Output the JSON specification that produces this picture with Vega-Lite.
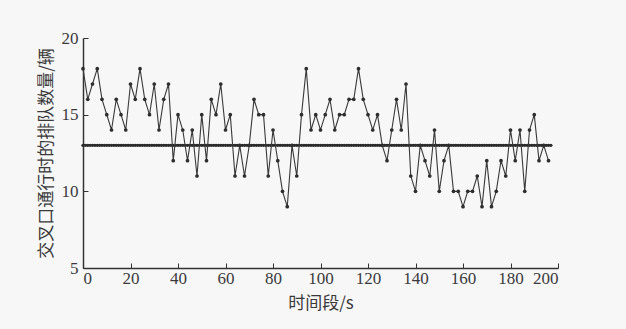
{
  "$schema": "https://vega.github.io/schema/vega-lite/v6.json",
  "width": 475,
  "height": 230,
  "autosize": "none",
  "padding": {"left": 83, "top": 38, "right": 68, "bottom": 61},
  "background": "#f7f7f8",
  "config": {
    "font": "Times New Roman",
    "view": {"stroke": null},
    "axis": {
      "grid": false,
      "labelFont": "Times New Roman",
      "labelFontSize": 17,
      "labelColor": "#3a3a3a",
      "titleFont": "Noto Sans CJK SC",
      "titleFontSize": 17,
      "titleFontWeight": "normal",
      "titleColor": "#3a3a3a",
      "domainColor": "#333333",
      "domainWidth": 1.5,
      "tickColor": "#333333",
      "tickSize": -5,
      "tickWidth": 1
    }
  },
  "datasets": {
    "queue": [
      {"t":0,"v":18},{"t":2,"v":16},{"t":4,"v":17},{"t":6,"v":18},{"t":8,"v":16},{"t":10,"v":15},{"t":12,"v":14},{"t":14,"v":16},{"t":16,"v":15},{"t":18,"v":14},
      {"t":20,"v":17},{"t":22,"v":16},{"t":24,"v":18},{"t":26,"v":16},{"t":28,"v":15},{"t":30,"v":17},{"t":32,"v":14},{"t":34,"v":16},{"t":36,"v":17},{"t":38,"v":12},
      {"t":40,"v":15},{"t":42,"v":14},{"t":44,"v":12},{"t":46,"v":14},{"t":48,"v":11},{"t":50,"v":15},{"t":52,"v":12},{"t":54,"v":16},{"t":56,"v":15},{"t":58,"v":17},
      {"t":60,"v":14},{"t":62,"v":15},{"t":64,"v":11},{"t":66,"v":13},{"t":68,"v":11},{"t":70,"v":13},{"t":72,"v":16},{"t":74,"v":15},{"t":76,"v":15},{"t":78,"v":11},
      {"t":80,"v":14},{"t":82,"v":12},{"t":84,"v":10},{"t":86,"v":9},{"t":88,"v":13},{"t":90,"v":11},{"t":92,"v":15},{"t":94,"v":18},{"t":96,"v":14},{"t":98,"v":15},
      {"t":100,"v":14},{"t":102,"v":15},{"t":104,"v":16},{"t":106,"v":14},{"t":108,"v":15},{"t":110,"v":15},{"t":112,"v":16},{"t":114,"v":16},{"t":116,"v":18},{"t":118,"v":16},
      {"t":120,"v":15},{"t":122,"v":14},{"t":124,"v":15},{"t":126,"v":13},{"t":128,"v":12},{"t":130,"v":14},{"t":132,"v":16},{"t":134,"v":14},{"t":136,"v":17},{"t":138,"v":11},
      {"t":140,"v":10},{"t":142,"v":13},{"t":144,"v":12},{"t":146,"v":11},{"t":148,"v":14},{"t":150,"v":10},{"t":152,"v":12},{"t":154,"v":13},{"t":156,"v":10},{"t":158,"v":10},
      {"t":160,"v":9},{"t":162,"v":10},{"t":164,"v":10},{"t":166,"v":11},{"t":168,"v":9},{"t":170,"v":12},{"t":172,"v":9},{"t":174,"v":10},{"t":176,"v":12},{"t":178,"v":11},
      {"t":180,"v":14},{"t":182,"v":12},{"t":184,"v":14},{"t":186,"v":10},{"t":188,"v":14},{"t":190,"v":15},{"t":192,"v":12},{"t":194,"v":13},{"t":196,"v":12}
    ],
    "avg": [
      {"t":0,"v":13},{"t":1,"v":13},{"t":2,"v":13},{"t":3,"v":13},{"t":4,"v":13},{"t":5,"v":13},{"t":6,"v":13},{"t":7,"v":13},{"t":8,"v":13},{"t":9,"v":13},
      {"t":10,"v":13},{"t":11,"v":13},{"t":12,"v":13},{"t":13,"v":13},{"t":14,"v":13},{"t":15,"v":13},{"t":16,"v":13},{"t":17,"v":13},{"t":18,"v":13},{"t":19,"v":13},
      {"t":20,"v":13},{"t":21,"v":13},{"t":22,"v":13},{"t":23,"v":13},{"t":24,"v":13},{"t":25,"v":13},{"t":26,"v":13},{"t":27,"v":13},{"t":28,"v":13},{"t":29,"v":13},
      {"t":30,"v":13},{"t":31,"v":13},{"t":32,"v":13},{"t":33,"v":13},{"t":34,"v":13},{"t":35,"v":13},{"t":36,"v":13},{"t":37,"v":13},{"t":38,"v":13},{"t":39,"v":13},
      {"t":40,"v":13},{"t":41,"v":13},{"t":42,"v":13},{"t":43,"v":13},{"t":44,"v":13},{"t":45,"v":13},{"t":46,"v":13},{"t":47,"v":13},{"t":48,"v":13},{"t":49,"v":13},
      {"t":50,"v":13},{"t":51,"v":13},{"t":52,"v":13},{"t":53,"v":13},{"t":54,"v":13},{"t":55,"v":13},{"t":56,"v":13},{"t":57,"v":13},{"t":58,"v":13},{"t":59,"v":13},
      {"t":60,"v":13},{"t":61,"v":13},{"t":62,"v":13},{"t":63,"v":13},{"t":64,"v":13},{"t":65,"v":13},{"t":66,"v":13},{"t":67,"v":13},{"t":68,"v":13},{"t":69,"v":13},
      {"t":70,"v":13},{"t":71,"v":13},{"t":72,"v":13},{"t":73,"v":13},{"t":74,"v":13},{"t":75,"v":13},{"t":76,"v":13},{"t":77,"v":13},{"t":78,"v":13},{"t":79,"v":13},
      {"t":80,"v":13},{"t":81,"v":13},{"t":82,"v":13},{"t":83,"v":13},{"t":84,"v":13},{"t":85,"v":13},{"t":86,"v":13},{"t":87,"v":13},{"t":88,"v":13},{"t":89,"v":13},
      {"t":90,"v":13},{"t":91,"v":13},{"t":92,"v":13},{"t":93,"v":13},{"t":94,"v":13},{"t":95,"v":13},{"t":96,"v":13},{"t":97,"v":13},{"t":98,"v":13},{"t":99,"v":13},
      {"t":100,"v":13},{"t":101,"v":13},{"t":102,"v":13},{"t":103,"v":13},{"t":104,"v":13},{"t":105,"v":13},{"t":106,"v":13},{"t":107,"v":13},{"t":108,"v":13},{"t":109,"v":13},
      {"t":110,"v":13},{"t":111,"v":13},{"t":112,"v":13},{"t":113,"v":13},{"t":114,"v":13},{"t":115,"v":13},{"t":116,"v":13},{"t":117,"v":13},{"t":118,"v":13},{"t":119,"v":13},
      {"t":120,"v":13},{"t":121,"v":13},{"t":122,"v":13},{"t":123,"v":13},{"t":124,"v":13},{"t":125,"v":13},{"t":126,"v":13},{"t":127,"v":13},{"t":128,"v":13},{"t":129,"v":13},
      {"t":130,"v":13},{"t":131,"v":13},{"t":132,"v":13},{"t":133,"v":13},{"t":134,"v":13},{"t":135,"v":13},{"t":136,"v":13},{"t":137,"v":13},{"t":138,"v":13},{"t":139,"v":13},
      {"t":140,"v":13},{"t":141,"v":13},{"t":142,"v":13},{"t":143,"v":13},{"t":144,"v":13},{"t":145,"v":13},{"t":146,"v":13},{"t":147,"v":13},{"t":148,"v":13},{"t":149,"v":13},
      {"t":150,"v":13},{"t":151,"v":13},{"t":152,"v":13},{"t":153,"v":13},{"t":154,"v":13},{"t":155,"v":13},{"t":156,"v":13},{"t":157,"v":13},{"t":158,"v":13},{"t":159,"v":13},
      {"t":160,"v":13},{"t":161,"v":13},{"t":162,"v":13},{"t":163,"v":13},{"t":164,"v":13},{"t":165,"v":13},{"t":166,"v":13},{"t":167,"v":13},{"t":168,"v":13},{"t":169,"v":13},
      {"t":170,"v":13},{"t":171,"v":13},{"t":172,"v":13},{"t":173,"v":13},{"t":174,"v":13},{"t":175,"v":13},{"t":176,"v":13},{"t":177,"v":13},{"t":178,"v":13},{"t":179,"v":13},
      {"t":180,"v":13},{"t":181,"v":13},{"t":182,"v":13},{"t":183,"v":13},{"t":184,"v":13},{"t":185,"v":13},{"t":186,"v":13},{"t":187,"v":13},{"t":188,"v":13},{"t":189,"v":13},
      {"t":190,"v":13},{"t":191,"v":13},{"t":192,"v":13},{"t":193,"v":13},{"t":194,"v":13},{"t":195,"v":13},{"t":196,"v":13},{"t":197,"v":13}
    ]
  },
  "encoding": {
    "x": {
      "field": "t",
      "type": "quantitative",
      "scale": {"domain": [0, 200], "nice": false},
      "axis": {"title": "时间段/s", "values": [0,20,40,60,80,100,120,140,160,180,200], "labelPadding": 7, "titlePadding": 9}
    },
    "y": {
      "field": "v",
      "type": "quantitative",
      "scale": {"domain": [5, 20], "nice": false, "zero": false},
      "axis": {"title": "交叉口通行时的排队数量/辆", "values": [5,10,15,20], "labelPadding": 10, "titlePadding": 6}
    }
  },
  "layer": [
    {
      "data": {"name": "avg"},
      "mark": {"type": "line", "color": "#333333", "strokeWidth": 1.5}
    },
    {
      "data": {"name": "avg"},
      "mark": {"type": "point", "shape": "circle", "filled": true, "size": 11, "color": "#2a2a2a", "opacity": 1}
    },
    {
      "data": {"name": "queue"},
      "mark": {"type": "line", "color": "#3a3a3a", "strokeWidth": 1.1, "point": {"filled": true, "size": 14, "shape": "circle", "color": "#2e2e2e", "opacity": 1}}
    }
  ]
}
